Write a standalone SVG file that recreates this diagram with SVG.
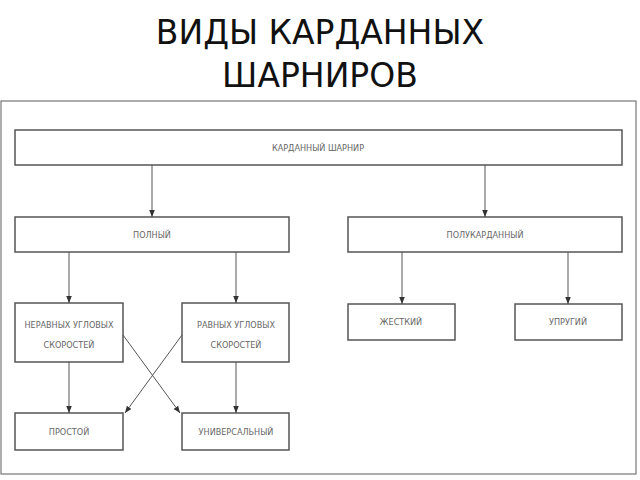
<svg xmlns="http://www.w3.org/2000/svg" width="640" height="480" viewBox="0 0 640 480">
<style>
.b{fill:#fff;stroke:#555;stroke-width:1.5}
.t{font-family:"DejaVu Sans Condensed","Liberation Sans",sans-serif;font-size:9px;fill:#666;text-anchor:middle}
.c{stroke:#555;stroke-width:1;fill:none;marker-end:url(#a)}
.h{font-family:"DejaVu Sans",sans-serif;font-size:33px;fill:#111;text-anchor:middle}
</style>
<defs><marker id="a" viewBox="0 0 10 10" refX="10" refY="5" markerWidth="7" markerHeight="9" orient="auto" markerUnits="userSpaceOnUse"><path d="M0,1 L10,5 L0,9 Z" fill="#333"/></marker></defs>
<rect width="640" height="480" fill="#fff"/>
<text class="h" x="320" y="44">ВИДЫ КАРДАННЫХ</text>
<text class="h" x="320" y="87">ШАРНИРОВ</text>
<rect x="1" y="101" width="635" height="373" fill="none" stroke="#777" stroke-width="1.2"/>
<g id="n1"><rect class="b" x="15" y="130" width="607" height="35"/><text class="t" x="318" y="151">КАРДАННЫЙ ШАРНИР</text></g>
<g id="n2"><rect class="b" x="15" y="217" width="274" height="35"/><text class="t" x="152" y="238">ПОЛНЫЙ</text></g>
<g id="n3"><rect class="b" x="348" y="217" width="274" height="35"/><text class="t" x="485" y="238">ПОЛУКАРДАННЫЙ</text></g>
<g id="n4"><rect class="b" x="15" y="303" width="108" height="59"/><text class="t" x="69" y="328">НЕРАВНЫХ УГЛОВЫХ</text><text class="t" x="69" y="348">СКОРОСТЕЙ</text></g>
<g id="n5"><rect class="b" x="182" y="303" width="107" height="59"/><text class="t" x="236" y="328">РАВНЫХ УГЛОВЫХ</text><text class="t" x="236" y="348">СКОРОСТЕЙ</text></g>
<g id="n6"><rect class="b" x="348" y="304" width="107" height="36"/><text class="t" x="401" y="325">ЖЕСТКИЙ</text></g>
<g id="n7"><rect class="b" x="515" y="304" width="107" height="36"/><text class="t" x="568" y="325">УПРУГИЙ</text></g>
<g id="n8"><rect class="b" x="15" y="413" width="108" height="37"/><text class="t" x="69" y="435">ПРОСТОЙ</text></g>
<g id="n9"><rect class="b" x="182" y="413" width="107" height="37"/><text class="t" x="236" y="435">УНИВЕРСАЛЬНЫЙ</text></g>
<g id="edges">
<path class="c" d="M152,165 V217"/><path class="c" d="M485,165 V217"/>
<path class="c" d="M69,252 V303"/><path class="c" d="M236,252 V303"/>
<path class="c" d="M402,252 V304"/><path class="c" d="M568,252 V304"/>
<path class="c" d="M69,362 V413"/><path class="c" d="M236,362 V413"/>
<path class="c" d="M123,335 L180,413"/><path class="c" d="M182,335 L125,413"/>
</g>
</svg>
